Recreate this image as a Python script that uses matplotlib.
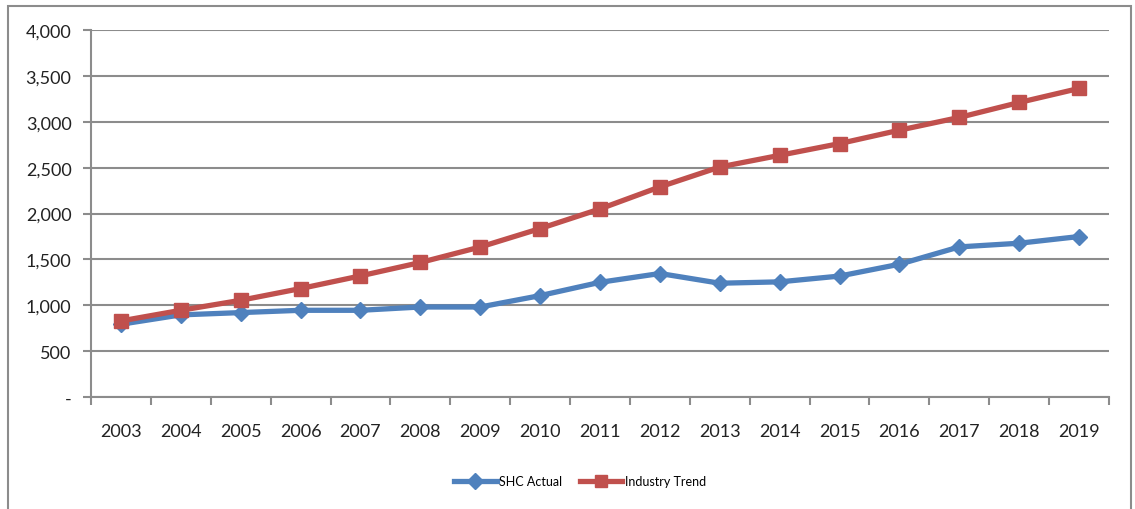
import numpy as np
import matplotlib.pyplot as plt
from matplotlib.patches import Rectangle
from matplotlib.ticker import FuncFormatter

years = ["2003", "2004", "2005", "2006", "2007", "2008", "2009", "2010", "2011",
         "2012", "2013", "2014", "2015", "2016", "2017", "2018", "2019"]
shc_actual = [793, 895, 920, 945, 945, 981, 981, 1105, 1250,
              1346, 1240, 1255, 1318, 1447, 1636, 1676, 1749]
industry_trend = [829, 945, 1054, 1182, 1320, 1466, 1635, 1836, 2050,
                  2290, 2507, 2634, 2762, 2908, 3047, 3210, 3363]

plt.rcParams['font.family'] = ['Lato', 'DejaVu Sans']

fig = plt.figure(figsize=(11.35, 5.10), dpi=100)
W, H = 1135, 510
# outer chart border
fig.patches.append(Rectangle((8 / W, -0.05), (1131 - 8) / W, 1.05 - 7 / H,
                             transform=fig.transFigure, fill=False,
                             edgecolor='#8c8c8c', linewidth=1.5))

ax = fig.add_axes([91 / W, 1 - 398 / H, (1109 - 91) / W, (398 - 31) / H])

x = np.arange(len(years))
blue = '#4F81BD'
red = '#C0504D'
ax.plot(x, shc_actual, color=blue, lw=3.8, marker='D', ms=8.5,
        label='SHC Actual', zorder=3)
ax.plot(x, industry_trend, color=red, lw=3.8, marker='s', ms=10,
        label='Industry Trend', zorder=4)

ax.set_xlim(-0.5, len(years) - 0.5)
ax.set_ylim(0, 4000)
ax.set_yticks(np.arange(0, 4001, 500))
ax.yaxis.set_major_formatter(FuncFormatter(lambda v, p: '-' if v == 0 else f'{int(v):,}'))
ax.grid(axis='y', color='#8c8c8c', lw=1.5)
ax.set_axisbelow(True)

ax.set_xticks(np.arange(-0.5, len(years), 1))
ax.set_xticklabels([])
ax.set_xticks(x, minor=True)
ax.set_xticklabels(years, minor=True)
ax.tick_params(axis='x', which='minor', length=0, pad=19, labelsize=13, colors='#222222')
ax.tick_params(axis='x', which='major', length=6, width=1.5, color='#8c8c8c')
ax.tick_params(axis='y', length=6, width=1.5, color='#8c8c8c', pad=8,
               labelsize=13, labelcolor='#222222')

for s in ['top', 'right']:
    ax.spines[s].set_visible(False)
for s in ['left', 'bottom']:
    ax.spines[s].set_color('#8c8c8c')
    ax.spines[s].set_linewidth(1.5)

leg = fig.legend(loc='center', bbox_to_anchor=(580 / W, 1 - 482 / H), ncol=2,
                 frameon=False, fontsize=9, handlelength=3.4, columnspacing=1.4,
                 handletextpad=0.2, markerscale=0.9)

fig.savefig('out.png', dpi=100)
